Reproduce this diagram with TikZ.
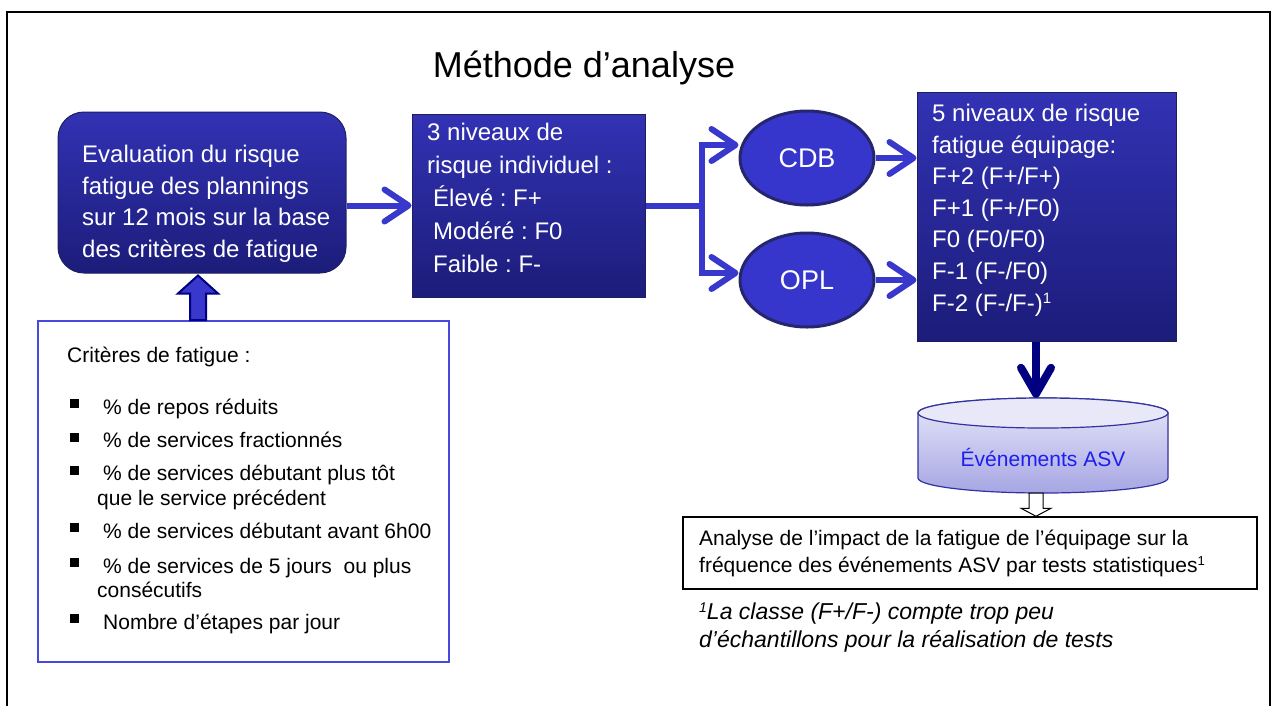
\documentclass[tikz,border=0pt]{standalone}
\usepackage{fontspec}
\setmainfont{Liberation Sans}
\usetikzlibrary{arrows.meta,calc,shapes.geometric}
\definecolor{boxtop}{RGB}{50,50,180}
\definecolor{boxbot}{RGB}{28,28,122}
\definecolor{boxline}{RGB}{30,30,95}
\definecolor{arrowblue}{RGB}{56,56,204}
\definecolor{ellfill}{RGB}{54,54,204}
\definecolor{ellline}{RGB}{38,38,110}
\definecolor{navyc}{RGB}{0,0,128}
\definecolor{cyltop}{RGB}{232,232,249}
\definecolor{cylbot}{RGB}{166,166,228}
\definecolor{cylline}{RGB}{50,50,160}
\definecolor{asvblue}{RGB}{30,30,238}
\definecolor{critline}{RGB}{72,72,221}
\newcommand\fs[2]{\fontsize{#1}{#2}\selectfont}
\newcommand\sups[2]{\raisebox{#1}{\fontsize{#2}{#2}\selectfont 1}}
\frenchspacing
\begin{document}
\frenchspacing
\begin{tikzpicture}[x=1pt,y=-1pt,
  bluebox/.style={draw=boxline, line width=1pt, top color=boxtop, bottom color=boxbot, inner sep=0pt},
  wtext/.style={text=white, font=\frenchspacing\fs{24}{31.6}, align=left, inner sep=0pt, anchor=north west},
  btext/.style={text=black, align=left, inner sep=0pt, anchor=north west},
  ellnode/.style={ellipse, minimum width=134pt, minimum height=94pt, fill=ellfill, draw=ellline, line width=3pt, text=white, font=\fs{27}{30}, inner sep=0pt},
  barrow/.style={draw=arrowblue, line width=6pt, -{Straight Barb[length=24pt,width=32pt,round]}},
  bline/.style={draw=arrowblue, line width=6pt},
  navyarrow/.style={draw=navyc, line width=8pt, -{Straight Barb[length=26pt,width=30pt,round]}},
  bulletsq/.style={fill=black, minimum size=9pt, inner sep=0pt},
  critem/.style={btext, font=\frenchspacing\fs{21}{24.5}}
]
\useasboundingbox (0,0) rectangle (1276,705);
\fill[white] (0,0) rectangle (1276,705);
% outer frame
\draw[line width=2pt] (7,706) -- (7,12) -- (1270,12) -- (1270,706);

% title
\node[font=\fs{36}{40}, anchor=base, inner sep=0pt] (title) at (584,77) {Méthode d’analyse};

% box 1
\node[bluebox, rounded corners=26pt, minimum width=288pt, minimum height=161pt] (b1) at (202,192.5) {};
\node[wtext] (t1) at (82,145) {Evaluation du risque\\fatigue des plannings\\sur 12 mois sur la base\\des critères de fatigue};

% box 2
\node[bluebox, minimum width=233pt, minimum height=183pt] (b2) at (528.5,205.5) {};
\node[wtext, font=\frenchspacing\fs{24}{33}] (t2) at (427,123) {3 niveaux de\\risque individuel :\\\hspace*{6pt}Élevé : F+\\\hspace*{6pt}Modéré : F0\\\hspace*{6pt}Faible : F-};

% box 3
\node[bluebox, minimum width=259pt, minimum height=249pt] (b3) at (1046.5,216.5) {};
\node[wtext] (t3) at (932,104) {5 niveaux de risque\\fatigue équipage:\\F+2 (F+/F+)\\F+1 (F+/F0)\\F0 (F0/F0)\\F-1 (F-/F0)\\F-2 (F-/F-)\sups{8pt}{15}};

% ellipses
\node[ellnode] (cdb) at (807,158) {CDB};
\node[ellnode] (opl) at (807,280) {OPL};

% connectors
\draw[barrow] (b1.east |- b2.west) -- (b2.west);
\coordinate (split) at (702,205.5);
\coordinate (jt) at (702,145);
\coordinate (jb) at (702,273);
\draw[bline] (b2.east) -- (split);
\draw[barrow] (jb) -- (jt) -- (cdb.west |- jt);
\draw[barrow] (jt) -- (jb) -- (opl.west |- jb);
\draw[barrow] (cdb.east) -- (b3.west |- cdb.east);
\draw[barrow] (opl.east) -- (b3.west |- opl.east);

% cylinder
\node[inner sep=0pt, minimum width=250pt, minimum height=95pt] (asv) at (1043,445.5) {};
\shade[top color=cyltop, bottom color=cylbot, draw=cylline, line width=1.2pt]
  (918,413) -- (918,478) arc[start angle=180, end angle=360, x radius=125pt, y radius=15pt]
  -- (1168,413) arc[start angle=0, end angle=180, x radius=125pt, y radius=15pt] -- cycle;
\filldraw[fill=cyltop, draw=cylline, line width=1.2pt] (1043,413) ellipse [x radius=125pt, y radius=15pt];
\node[text=asvblue, font=\fs{21}{24}, inner sep=0pt] (asvlabel) at (1043,457) {Événements ASV};

\draw[navyarrow] ([xshift=-10.5pt]b3.south) -- ([xshift=-7pt]asv.north);

% box 4
\node[draw=black, line width=1.5pt, minimum width=574pt, minimum height=72pt] (b4) at (970,553) {};
\node[btext, font=\fs{21}{27}] (t4) at (699,530) {Analyse de l’impact de la fatigue de l’équipage sur la\\fréquence des événements ASV par tests statistiques\sups{7pt}{13}};

% hollow arrow
\coordinate (hs) at ([xshift=-7pt]asv.south);
\coordinate (he) at (hs |- b4.north);
\draw[fill=white, draw=black, line width=1pt] ($(hs)+(-7,0)$) -- ($(he)+(-7,-8)$) -- ($(he)+(-15,-8)$) -- (he) -- ($(he)+(15,-8)$) -- ($(he)+(7,-8)$) -- ($(hs)+(7,0)$) -- cycle;

% footnote
\node[btext, font=\itshape\fs{23}{28}] (fn) at (699,603) {\sups{7pt}{14}La classe (F+/F-) compte trop peu\\d’échantillons pour la réalisation de tests};

% criteria box
\node[draw=critline, line width=2pt, minimum width=411pt, minimum height=341pt, inner sep=0pt] (crit) at (243.5,491.5) {};
\node[btext, font=\frenchspacing\fs{21}{25}] (ctitle) at (67,347) {Critères de fatigue :};
\node[bulletsq] (q1) at (74.5,403) {};
\node[bulletsq] (q2) at (74.5,437) {};
\node[bulletsq] (q3) at (74.5,470) {};
\node[bulletsq] (q4) at (74.5,527) {};
\node[bulletsq] (q5) at (74.5,562) {};
\node[bulletsq] (q6) at (74.5,618) {};
\node[critem] (c1) at (97,399) {\hspace*{6pt}\% de repos réduits};
\node[critem] (c2) at (97,432) {\hspace*{6pt}\% de services fractionnés};
\node[critem] (c3) at (97,465) {\hspace*{6pt}\% de services débutant plus tôt\\que le service précédent};
\node[critem] (c4) at (97,523) {\hspace*{6pt}\% de services débutant avant 6h00};
\node[critem] (c5) at (97,558) {\hspace*{6pt}\% de services de 5 jours\ \ ou plus\\consécutifs};
\node[critem] (c6) at (97,614) {\hspace*{6pt}Nombre d’étapes par jour};

% up arrow criteria -> box 1
\coordinate (ut) at ([xshift=-4pt,yshift=-2pt]b1.south);
\coordinate (ub) at (ut |- crit.north);
\draw[fill=arrowblue, draw=navyc, line width=2pt, line join=miter] ($(ub)+(-8,0)$) -- ($(ut)+(-8,18)$) -- ($(ut)+(-20,18)$) -- (ut) -- ($(ut)+(20,18)$) -- ($(ut)+(8,18)$) -- ($(ub)+(8,0)$) -- cycle;
\end{tikzpicture}
\end{document}
